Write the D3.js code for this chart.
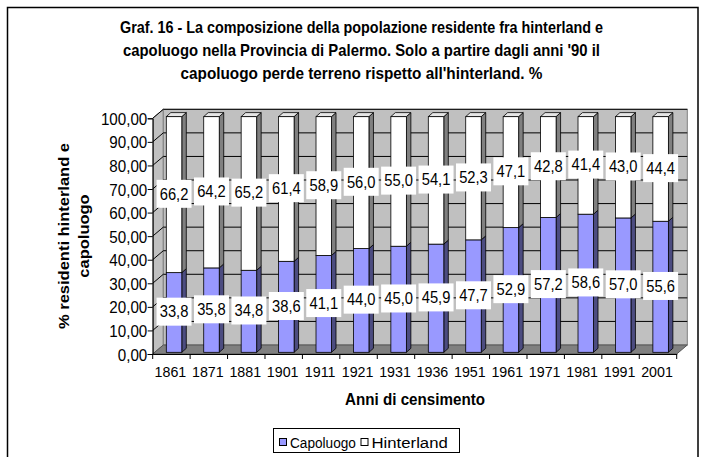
<!DOCTYPE html>
<html><head><meta charset="utf-8">
<script src="https://cdn.jsdelivr.net/npm/d3@7"></script>
<style>html,body{margin:0;padding:0;background:#fff;}svg{display:block;}</style>
</head><body>
<script>
const years = ["1861","1871","1881","1901","1911","1921","1931","1936","1951","1961","1971","1981","1991","2001"];
const capoluogo = [33.8,35.8,34.8,38.6,41.1,44.0,45.0,45.9,47.7,52.9,57.2,58.6,57.0,55.6];
const hinterland = [66.2,64.2,65.2,61.4,58.9,56.0,55.0,54.1,52.3,47.1,42.8,41.4,43.0,44.4];
const yTicks = [0,10,20,30,40,50,60,70,80,90,100];
const seriesNames = ["Capoluogo","Hinterland"];
const seriesColors = ["#9999FF","#FFFFFF"];
const sideColors = ["#4C4C80","#808080"];
const topColors = ["#7A7ACC","#E6E6E6"];
const titleLines = ["Graf. 16 - La composizione della popolazione residente fra hinterland e",
  "capoluogo nella Provincia di Palermo. Solo a partire dagli anni '90 il",
  "capoluogo perde terreno rispetto all'hinterland. %"];
const yTitleLines = ["% residenti hinterland e","capoluogo"];
const xTitle = "Anni di censimento";

const W=717,H=457, SQ=0.92, FONT="Arial, 'Liberation Sans', sans-serif";
const svg=d3.select("body").append("svg").attr("width",W).attr("height",H);

// outer frame
svg.append("rect").attr("x",7.5).attr("y",7.5).attr("width",690.5).attr("height",470)
  .attr("fill","#fff").attr("stroke","#000").attr("stroke-width",1.5);

const x0=152.7,x1=676.7,y0=354,y1=118.3, DX=10.6, DY=-9;
const x=d3.scaleBand().domain(years).range([x0,x1]).padding(0);
const y=d3.scaleLinear().domain([0,100]).range([y0,y1]);

function txt(g,px,py,s,o={}){
  const t=g.append("text").attr("transform",`translate(${px},${py}) scale(${o.sq||SQ},1)${o.rot?" rotate(-90)":""}`)
   .attr("text-anchor",o.anchor||"middle").attr("font-family",FONT)
   .attr("font-size",o.size||15).attr("font-weight",o.bold?"bold":"normal").attr("fill","#000").text(s);
  if(o.len){t.attr("textLength",o.len).attr("lengthAdjust",o.adj||"spacingAndGlyphs");}
  return t;
}

// title
const titleLens=[483,477,362];
titleLines.forEach((t,i)=>txt(svg,361.5,32.5+i*23,t,{bold:true,size:16.5,sq:1,len:titleLens[i]}));

// walls
const wall=svg.append("g");
wall.append("path").attr("d",`M${x0},${y0}L${x0},${y1}L${x0+DX},${y1+DY}L${x0+DX},${y0+DY}Z`)
  .attr("fill","#C0C0C0").attr("stroke","#808080");
wall.append("rect").attr("x",x0+DX).attr("y",y1+DY).attr("width",x1-x0).attr("height",y0-y1)
  .attr("fill","#C0C0C0").attr("stroke","#808080");
wall.append("path").attr("d",`M${x0},${y0}L${x1},${y0}L${x1+DX},${y0+DY}L${x0+DX},${y0+DY}Z`)
  .attr("fill","#808080").attr("stroke","#555");
yTicks.forEach(v=>{
  if(v===0) return;
  wall.append("path").attr("d",`M${x0},${y(v)}L${x0+DX},${y(v)+DY}L${x1+DX},${y(v)+DY}`)
    .attr("fill","none").attr("stroke","#000").attr("stroke-width",1);
});

// bars
const bw=15.5, boff=13.6, bdx=4.5, bdy=-4, fdy=-1.7;
const bars=svg.append("g");
const stack=d3.stack().keys([0,1]).value((d,k)=>d[k])(years.map((yr,i)=>[capoluogo[i],hinterland[i]]));
years.forEach((yr,i)=>{
  const bx=x(yr)+boff;
  stack.forEach((s,k)=>{
    const a=s[i][0], b=Math.min(100,s[i][1]);
    const ya=y(a)+fdy, yb=y(b)+fdy;
    bars.append("path").attr("d",`M${bx+bw},${ya}L${bx+bw+bdx},${ya+bdy}L${bx+bw+bdx},${yb+bdy}L${bx+bw},${yb}Z`)
      .attr("fill",sideColors[k]).attr("stroke","#000").attr("stroke-width",0.8);
    bars.append("rect").attr("x",bx).attr("y",yb).attr("width",bw).attr("height",ya-yb)
      .attr("fill",seriesColors[k]).attr("stroke","#000").attr("stroke-width",0.8);
    if(k===1){
      bars.append("path").attr("d",`M${bx},${yb}L${bx+bdx},${yb+bdy}L${bx+bw+bdx},${yb+bdy}L${bx+bw},${yb}Z`)
        .attr("fill",topColors[k]).attr("stroke","#000").attr("stroke-width",0.8);
    }
  });
});

// data labels
const labels=svg.append("g");
years.forEach((yr,i)=>{
  const cx=x(yr)+boff+bw/2;
  stack.forEach((s,k)=>{
    const v=k===0?capoluogo[i]:hinterland[i];
    const mid=(s[i][0]+s[i][1])/2;
    const cy=y(mid)-2.5;
    labels.append("rect").attr("x",cx-17.5).attr("y",cy-14).attr("width",35).attr("height",28).attr("fill","#fff");
    txt(labels,cx,cy+5.8,v.toFixed(1).replace(".",","),{size:16});
  });
});

// y axis
const ya=svg.append("g").attr("transform",`translate(${x0},0)`)
  .call(d3.axisLeft(y).tickValues(yTicks).tickSize(5).tickFormat(d=>d.toFixed(2).replace(".",",")));
ya.select(".domain").attr("stroke","#000");
ya.selectAll(".tick line").attr("stroke","#000");
ya.selectAll(".tick text").attr("x",null).attr("dy",null)
  .attr("transform",`translate(-5.4,6) scale(${SQ},1)`)
  .attr("font-family",FONT).attr("font-size",16.5).attr("fill","#000");

// x axis
const xa=svg.append("g").attr("transform",`translate(0,${y0})`)
  .call(d3.axisBottom(x).tickSize(0).tickSizeOuter(0));
xa.select(".domain").attr("stroke","#000");
xa.selectAll(".tick text").attr("y",null).attr("dy",null)
  .attr("transform",`translate(-1,22.5) scale(${SQ},1)`)
  .attr("font-family",FONT).attr("font-size",15.5).attr("fill","#000");
d3.range(years.length+1).forEach(i=>{
  const px=x0+i*x.step();
  xa.append("line").attr("x1",px).attr("x2",px).attr("y1",0).attr("y2",5).attr("stroke","#000");
});

// axis titles
txt(svg,415,405,xTitle,{bold:true,size:16.5});
yTitleLines.forEach((t,i)=>txt(svg,68.5+i*20.6,236,t,{bold:true,size:16.5,rot:true}));

// legend
const lg=svg.append("g");
lg.append("rect").attr("x",273.5).attr("y",428.5).attr("width",186).attr("height",24).attr("fill","#fff").attr("stroke","#000");
const lx=[279.5,361], lsq=[0.88,1.08];
seriesNames.forEach((n,k)=>{
  lg.append("rect").attr("x",lx[k]).attr("y",438.5).attr("width",7).attr("height",7).attr("fill",seriesColors[k]).attr("stroke","#000");
  txt(lg,lx[k]+10.5,447.5,n,{anchor:"start",size:15.5,sq:lsq[k]});
});
</script>
</body></html>
